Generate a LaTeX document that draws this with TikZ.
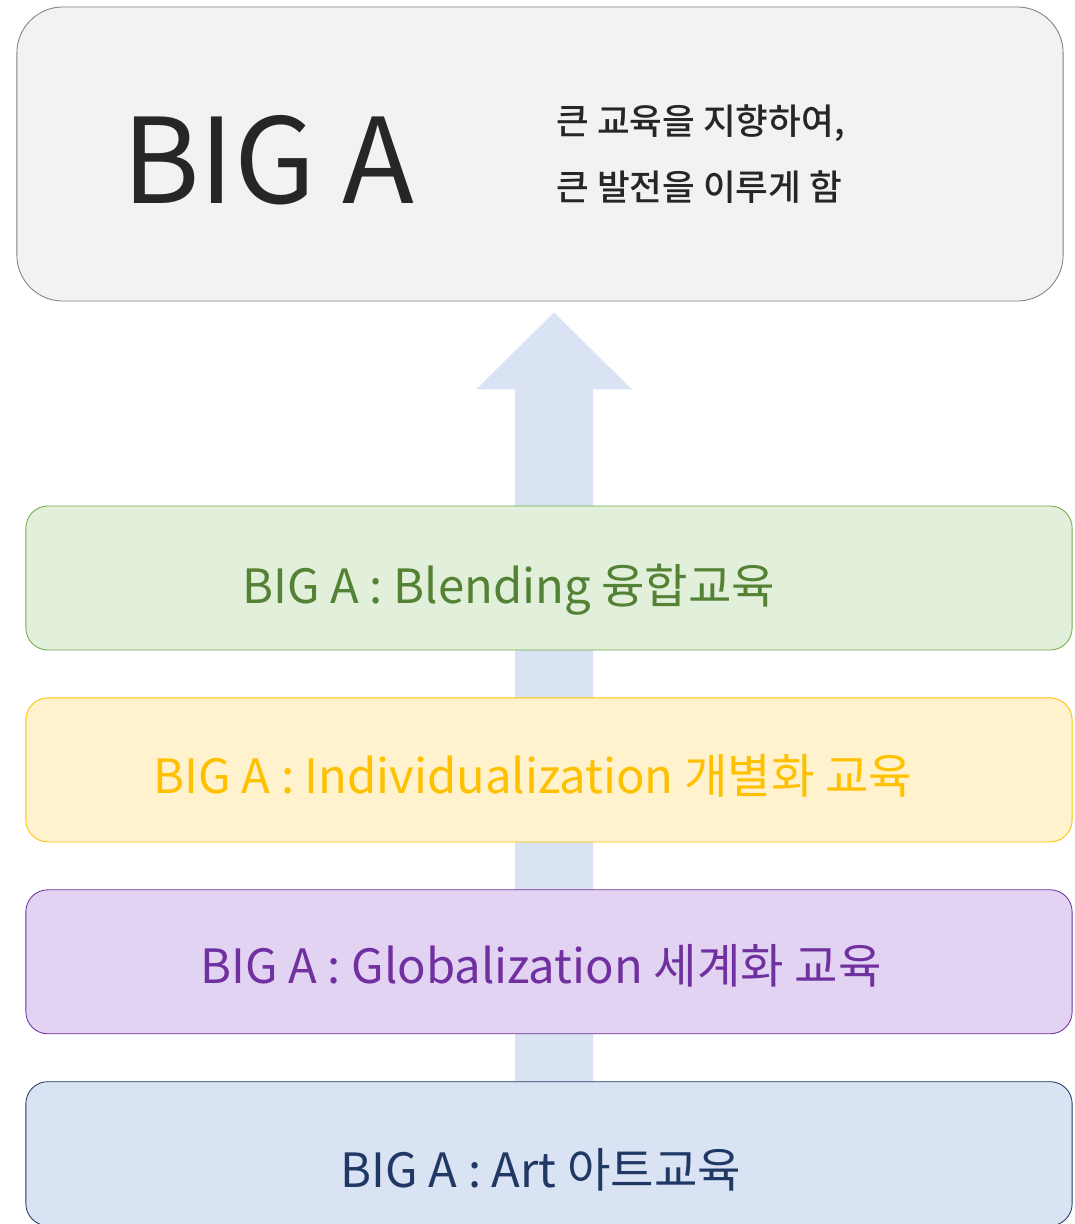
\documentclass[tikz,border=0pt]{standalone}
\usepackage{fontspec}
\usepackage{tikz}
\usetikzlibrary{positioning, calc, backgrounds}
\newfontfamily\kr{Noto Sans CJK KR}
\newfontfamily\krm{Noto Sans CJK KR Medium}
\definecolor{ink}     {HTML}{262626}
\definecolor{topFill} {HTML}{F2F2F2}
\definecolor{topLine} {HTML}{7F7F7F}
\definecolor{shaft}   {HTML}{DAE3F3}
\definecolor{grnFill} {HTML}{E2EFDA}
\definecolor{grnLine} {HTML}{70AD47}
\definecolor{grnText} {HTML}{548235}
\definecolor{ylwFill} {HTML}{FFF2CC}
\definecolor{ylwLine} {HTML}{FFC000}
\definecolor{prpFill} {HTML}{E2D3F2}
\definecolor{prpLine} {HTML}{7030A0}
\definecolor{bluFill} {HTML}{DAE3F3}
\definecolor{bluLine} {HTML}{203864}

\begin{document}
\begin{tikzpicture}[
      x=0.025cm, y=-0.025cm,
      node distance=1.175cm,
      lvl/.style={draw, line width=0.6pt, rounded corners=0.55cm,
                  minimum width=26.15cm, minimum height=3.6cm, inner sep=0pt},
      grn/.style ={lvl, draw=grnLine, fill=grnFill},
      ylw/.style ={lvl, draw=ylwLine, fill=ylwFill},
      prp/.style ={lvl, draw=prpLine, fill=prpFill},
      blu/.style ={lvl, draw=bluLine, fill=bluFill},
      tag/.style ={font=\kr\fontsize{33.6}{38}\selectfont, inner sep=0pt, anchor=center},
      sub/.style ={font=\krm\fontsize{25.3}{30}\selectfont, text=ink, inner sep=0pt, anchor=west}]

    \useasboundingbox (0,0) rectangle (1075,1224);

    \node[draw=topLine, fill=topFill, line width=0.6pt, rounded corners=1.15cm,
          minimum width=26.15cm, minimum height=7.35cm] (goal) at (540,154) {};
    \node[font=\kr\fontsize{84}{90}\selectfont, text=ink, inner sep=0pt] (big) at (268,160) {BIG A};
    \node[sub] (line1) at (556,123) {큰 교육을 지향하여,};
    \node[sub] (line2) at (556,187) {큰 발전을 이루게 함};

    \node[grn] (blend) at (549,578) {};
    \node[ylw, below=of blend] (indiv) {};
    \node[prp, below=of indiv] (glob)  {};
    \node[blu, below=of glob]  (art)   {};

    \node[tag, text=grnText] (blendT) at ([xshift=-1cm, yshift=-0.3cm]blend.center) {BIG A : Blending 융합교육};
    \node[tag, text=ylwLine] (indivT) at ([xshift=-0.4cm, yshift=-0.15cm]indiv.center) {BIG A : Individualization 개별화 교육};
    \node[tag, text=prpLine] (globT)  at ([xshift=-0.2cm, yshift=-0.1cm]glob.center) {BIG A : Globalization 세계화 교육};
    \node[tag, text=bluLine] (artT)   at ([xshift=-0.2cm, yshift=-0.4cm]art.center) {BIG A : Art 아트교육};

    \coordinate (tip)  at ([xshift=0.35cm, yshift=-0.275cm]goal.south);
    \coordinate (base) at (art.north);
    \begin{scope}[on background layer]
      \fill[shaft] (tip) -- ($(tip)+(78,77)$) -- ($(tip)+(39,77)$) -- (base -| {$(tip)+(39,0)$})
                   -- (base -| {$(tip)+(-39,0)$}) -- ($(tip)+(-39,77)$) -- ($(tip)+(-78,77)$) -- cycle;
    \end{scope}
  \end{tikzpicture}
\end{document}
